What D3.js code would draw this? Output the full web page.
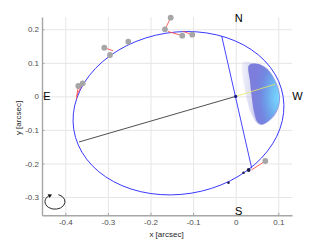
<!DOCTYPE html>
<html>
<head>
<meta charset="utf-8">
<script src="https://cdn.jsdelivr.net/npm/d3@7"></script>
<style>
  html, body { margin: 0; padding: 0; background: #fff; }
  svg { display: block; font-family: "Liberation Sans", Arial, sans-serif; }
  .grid line { stroke: #e6e6e6; }
  .grid path { display: none; }
  .axis path { stroke: #a6a6a6; stroke-width: 1.4; }
  .axis line { stroke: #a6a6a6; }
  .axis text { fill: #4d4d4d; font-size: 8px; }
</style>
</head>
<body>
<div id="chart"></div>
<script>
// ----------------------------------------------
// Data (arcsec)
// ----------------------------------------------
const xTicks = [-0.4, -0.3, -0.2, -0.1, 0, 0.1];
const xTickLabels = ['-0.4', '-0.3', '-0.2', '-0.1', '0', '0.1'];
const yTicks = [-0.3, -0.2, -0.1, 0, 0.1, 0.2];
const yTickLabels = ['-0.3', '-0.2', '-0.1', '0', '0.1', '0.2'];

// best orbit: centre, semi-axes, tilt (deg on screen)
const orbitCenter = [-0.1343, -0.0502];
const orbitSemiAxes = [0.2488, 0.2415];
const orbitTilt = -9;

// observed positions and the model positions they are tied to
const obsX = [-0.3085, -0.2950, -0.2521, -0.3695, -0.3592, -0.1526, -0.1660, -0.1254, -0.1019, 0.0695];
const obsY = [0.1451, 0.1234, 0.1630, 0.0310, 0.0390, 0.2346, 0.2000, 0.1810, 0.1840, -0.1927];
const modelX = [-0.2880, -0.2930, -0.2505, -0.3740, -0.3733, -0.1660, -0.1650, -0.1589, -0.1237, 0.0371];
const modelY = [0.1360, 0.1290, 0.1650, -0.0080, 0.0020, 0.1994, 0.1980, 0.1934, 0.1940, -0.2195];

// predicted future positions
const predX = [-0.0169, 0.0183, 0.0305];
const predY = [-0.2574, -0.2276, -0.2195];
const predR = [1.3, 1.3, 1.9];

// lines through the star
const apsidesEnd = [-0.3678, -0.1360];
const nodesLine = [[-0.0329, 0.1800], [0.0376, -0.2144]];
const periDir = [0.0923, 0.0360];

// cloud of possible positions (outline)
const cloudOuter = [
  [0.0171, 0.1025], [0.0383, 0.0995], [0.0664, 0.0906], [0.0829, 0.0697],
  [0.0969, 0.0369], [0.1040, 0.0011], [0.1016, -0.0287], [0.0922, -0.0555],
  [0.0758, -0.0764], [0.0594, -0.0853], [0.0500, -0.0794], [0.0359, -0.0496],
  [0.0265, -0.0108], [0.0195, 0.0339], [0.0148, 0.0727]
];
const cloudInner = [
  [0.0310, 0.0925], [0.0500, 0.0975], [0.0664, 0.0886], [0.0829, 0.0677],
  [0.0950, 0.0369], [0.1020, 0.0011], [0.0997, -0.0287], [0.0903, -0.0530],
  [0.0760, -0.0740], [0.0610, -0.0835], [0.0515, -0.0775], [0.0430, -0.0466],
  [0.0380, -0.0048], [0.0335, 0.0450]
];

// direction-of-motion glyph
const motionCenter = [-0.4242, -0.3140];

// ----------------------------------------------
// Layout
// ----------------------------------------------
const width = 323, height = 242;
const plotLeft = 42, plotRight = 292, plotTop = 17, plotBottom = 215.3;

const svg = d3.select('#chart').append('svg')
  .attr('width', width)
  .attr('height', height);

const x = d3.scaleLinear().domain([-0.4547, 0.1322]).range([plotLeft, plotRight]);
const y = d3.scaleLinear().domain([-0.3546, 0.2367]).range([plotBottom, plotTop]);

const defs = svg.append('defs');
const grad = defs.append('radialGradient')
  .attr('id', 'cloudFill')
  .attr('cx', 1.0).attr('cy', 0.55).attr('r', 0.85)
  .attr('fx', 1.0).attr('fy', 0.55);
[[0, '#7ad8ff'], [0.25, '#72c2f6'], [0.5, '#6ea0ea'], [0.72, '#7486e0'], [1, '#7d7ddc']]
  .forEach(s => grad.append('stop').attr('offset', s[0]).attr('stop-color', s[1]));

const fringe = defs.append('linearGradient')
  .attr('id', 'fringeFill')
  .attr('x1', 0).attr('x2', 1).attr('y1', 0).attr('y2', 0);
[[0, '#c4c4ec', 0.25], [0.4, '#a4a4e4', 0.6], [1, '#8888dc', 0.9]]
  .forEach(s => fringe.append('stop').attr('offset', s[0]).attr('stop-color', s[1]).attr('stop-opacity', s[2]));

// grid
svg.append('g').attr('class', 'grid')
  .attr('transform', `translate(0,${plotBottom})`)
  .call(d3.axisBottom(x).tickValues(xTicks).tickSize(-(plotBottom - plotTop)).tickFormat(''));
svg.append('g').attr('class', 'grid')
  .attr('transform', `translate(${plotLeft},0)`)
  .call(d3.axisLeft(y).tickValues(yTicks).tickSize(-(plotRight - plotLeft)).tickFormat(''));

// axes (inward ticks, no box)
svg.append('g').attr('class', 'axis')
  .attr('transform', `translate(0,${plotBottom})`)
  .call(d3.axisBottom(x).tickValues(xTicks).tickSizeInner(-2.5).tickSizeOuter(0)
    .tickPadding(4).tickFormat((d, i) => xTickLabels[i]));
svg.append('g').attr('class', 'axis')
  .attr('transform', `translate(${plotLeft},0)`)
  .call(d3.axisLeft(y).tickValues(yTicks).tickSizeInner(-2.5).tickSizeOuter(0)
    .tickPadding(3).tickFormat((d, i) => yTickLabels[i]));

// cloud of orbital positions
const cloudLine = d3.line()
  .x(d => x(d[0])).y(d => y(d[1]))
  .curve(d3.curveCatmullRomClosed);
svg.append('path').attr('d', cloudLine(cloudOuter)).attr('fill', 'url(#fringeFill)');
svg.append('path').attr('d', cloudLine(cloudInner)).attr('fill', 'url(#cloudFill)');

// orbit ellipse
const ocx = x(orbitCenter[0]), ocy = y(orbitCenter[1]);
svg.append('ellipse')
  .attr('cx', ocx).attr('cy', ocy)
  .attr('rx', x(orbitCenter[0] + orbitSemiAxes[0]) - ocx)
  .attr('ry', ocy - y(orbitCenter[1] + orbitSemiAxes[1]))
  .attr('transform', `rotate(${orbitTilt},${ocx},${ocy})`)
  .attr('fill', 'none')
  .attr('stroke', '#3030ff')
  .attr('stroke-width', 0.9);

// line of apsides, line of nodes, periastron direction
svg.append('line')
  .attr('x1', x(0)).attr('y1', y(0))
  .attr('x2', x(apsidesEnd[0])).attr('y2', y(apsidesEnd[1]))
  .attr('stroke', '#222').attr('stroke-width', 0.8);
svg.append('line')
  .attr('x1', x(nodesLine[0][0])).attr('y1', y(nodesLine[0][1]))
  .attr('x2', x(nodesLine[1][0])).attr('y2', y(nodesLine[1][1]))
  .attr('stroke', '#3030ff').attr('stroke-width', 0.9);
svg.append('line')
  .attr('x1', x(0)).attr('y1', y(0))
  .attr('x2', x(periDir[0])).attr('y2', y(periDir[1]))
  .attr('stroke', '#e8e860').attr('stroke-width', 0.8);

// residuals
svg.append('g').selectAll('line')
  .data(d3.range(obsX.length))
  .join('line')
  .attr('x1', i => x(modelX[i])).attr('y1', i => y(modelY[i]))
  .attr('x2', i => x(obsX[i])).attr('y2', i => y(obsY[i]))
  .attr('stroke', '#ff5050').attr('stroke-width', 0.9);

svg.append('g').selectAll('circle')
  .data(d3.range(obsX.length))
  .join('circle')
  .attr('cx', i => x(obsX[i])).attr('cy', i => y(obsY[i]))
  .attr('r', 2.9)
  .attr('fill', '#a6a6a6');

svg.append('g').selectAll('circle')
  .data(d3.range(predX.length))
  .join('circle')
  .attr('cx', i => x(predX[i])).attr('cy', i => y(predY[i]))
  .attr('r', i => predR[i])
  .attr('fill', '#1c1c4a');

// the star
svg.append('circle')
  .attr('cx', x(0)).attr('cy', y(0)).attr('r', 1.6)
  .attr('fill', '#1a1a8c');

// direction of motion (clockwise)
const mcx = x(motionCenter[0]), mcy = y(motionCenter[1]);
const mrx = 10, mry = 7.5;
const pt = a => [mcx + mrx * Math.cos(a * Math.PI / 180), mcy + mry * Math.sin(a * Math.PI / 180)];
const p0 = pt(-70), p1 = pt(-128);
svg.append('path')
  .attr('d', `M${p0[0]},${p0[1]} A${mrx},${mry} 0 1 1 ${p1[0]},${p1[1]}`)
  .attr('fill', 'none').attr('stroke', '#111').attr('stroke-width', 0.9);
svg.append('path')
  .attr('d', `M${p1[0] + 3.2},${p1[1] - 1.3} L${p1[0] - 1.2},${p1[1] - 1.6} L${p1[0] + 0.8},${p1[1] + 2.2} Z`)
  .attr('fill', '#111');

// compass labels
const compass = svg.append('g').attr('font-size', '11px').attr('fill', '#000')
  .attr('text-anchor', 'middle');
compass.append('text').attr('x', x(0) + 3).attr('y', 22.3).text('N');
compass.append('text').attr('x', x(0) + 3).attr('y', 214.5).text('S');
compass.append('text').attr('x', 47).attr('y', y(0) + 4).text('E');
compass.append('text').attr('x', 297.5).attr('y', y(0) + 4).text('W');

// axis titles
svg.append('text')
  .attr('x', 166.5).attr('y', 237)
  .attr('text-anchor', 'middle')
  .attr('font-size', '8px').attr('fill', '#262626')
  .text('x [arcsec]');
svg.append('text')
  .attr('transform', 'translate(20.5,118) rotate(-90)')
  .attr('text-anchor', 'middle')
  .attr('font-size', '8px').attr('fill', '#262626')
  .text('y [arcsec]');
</script>
</body>
</html>
